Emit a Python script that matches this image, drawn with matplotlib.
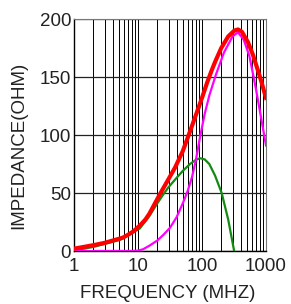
import matplotlib
matplotlib.use("Agg")
import matplotlib.pyplot as plt
from matplotlib.ticker import FixedLocator, NullFormatter

plt.rcParams['font.family'] = ['Liberation Sans', 'DejaVu Sans']

# Red curve (total impedance)
red_f = [1, 2, 3, 5.8, 7, 8.5, 10.7, 13, 15, 22, 30, 38, 50, 62, 80, 100, 120, 140, 160, 200, 257, 320, 365, 420, 523, 626, 806, 1000]
red_z = [2, 5, 7, 11.5, 14, 17, 22, 27, 32, 49, 62, 72, 86, 100, 117, 132, 145, 155, 163, 175, 185, 190, 191, 189, 180, 169, 150, 132]

# Magenta curve (resistive part)
mag_f = [1, 8, 10, 12, 15, 20, 25, 31.6, 40, 50, 60, 70, 80, 93, 110, 130, 165, 220, 300, 365, 450, 550, 640, 700, 850, 1000]
mag_z = [0, 0, 0.3, 1.5, 4.5, 9, 14, 20, 29, 41, 52, 64, 78, 98, 118, 134, 152, 171, 185, 188.5, 182, 168, 150, 139, 113, 91]

# Green curve (reactive part)
grn_f = [1, 2, 5.2, 10.7, 15, 20, 25, 30, 40, 50, 65, 80, 93, 110, 130, 160, 203, 257, 318]
grn_z = [0.5, 3.5, 9.5, 19.5, 30, 41, 49, 55, 63, 69, 75, 78.5, 80, 79, 75, 65, 50, 27, 0]

y_ticks = [0, 50, 100, 150, 200]
x_ticks = [1, 10, 100, 1000]
x_tick_labels = ["1", "10", "100", "1000"]

fig = plt.figure(figsize=(2.91, 3.04), dpi=100)
ax = fig.add_axes([74 / 291, 53 / 304, 192 / 291, 232 / 304])

ax.set_xscale('log')
ax.set_xlim(1, 1000)
ax.set_ylim(0, 200)

# grid lines
minor = [m * d for d in [1, 10, 100] for m in range(2, 10)]
ax.xaxis.set_minor_locator(FixedLocator(minor))
ax.xaxis.set_minor_formatter(NullFormatter())
ax.set_xticks(x_ticks)
ax.set_xticklabels(x_tick_labels)
ax.set_yticks(y_ticks)
ax.grid(True, which='both', axis='x', color='black', linewidth=0.7)
ax.grid(True, which='major', axis='y', color='#222222', linewidth=0.9)
ax.tick_params(which='both', length=0)
ax.tick_params(axis='y', pad=2, labelsize=13.5, colors='#222222')
ax.tick_params(axis='x', pad=5, labelsize=13.5, colors='#222222')

for side in ['left', 'bottom']:
    ax.spines[side].set_color('black')
    ax.spines[side].set_linewidth(1.0)
for side in ['top', 'right']:
    ax.spines[side].set_color('#777777')
    ax.spines[side].set_linewidth(0.8)

ax.plot(grn_f, grn_z, color='#138a13', linewidth=1.6, zorder=3)
ax.plot(mag_f, mag_z, color='#ff00ff', linewidth=1.6, zorder=4)
ax.plot(red_f, red_z, color='#ff0000', linewidth=3.0, zorder=5)

ax.set_xlabel("FREQUENCY (MHZ)", fontsize=13.5, color='#222222', va='center', ha='center')
ax.set_ylabel("IMPEDANCE(OHM)", fontsize=13.5, color='#222222', va='center', ha='center')
ax.xaxis.set_label_coords(0.49, -0.185)
ax.yaxis.set_label_coords(-0.29, 0.457)

fig.savefig("out.png", dpi=100)
